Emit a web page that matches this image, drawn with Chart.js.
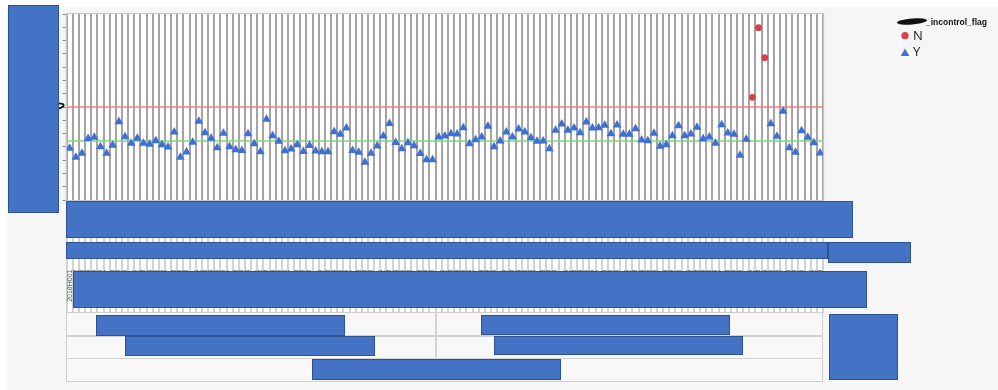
<!DOCTYPE html>
<html><head><meta charset="utf-8">
<script src="https://cdn.jsdelivr.net/npm/chart.js@4/dist/chart.umd.min.js"></script>
<style>
html,body{margin:0;padding:0;background:#fff;}
#wrap{position:relative;width:998px;height:390px;overflow:hidden;background:#fff;}
#panel{position:absolute;left:7px;top:7px;width:991px;height:383px;background:#f6f6f6;}
canvas{position:absolute;left:0;top:0;}
.r{position:absolute;background:#4472c4;border:1px solid #2f528f;box-sizing:border-box;}
.ln{position:absolute;background:#d2d2d2;}
</style></head>
<body>
<div id="wrap">
  <div id="panel"></div>
  <canvas id="c" width="998" height="390"></canvas>
  <div style="position:absolute;left:66px;top:312px;width:757px;height:70px;border:1.5px solid #cfcfcf;box-sizing:border-box;background:#f8f8f8;"></div>
  <div class="ln" style="left:66px;top:335px;width:757px;height:1.5px;"></div>
  <div class="ln" style="left:66px;top:357.5px;width:757px;height:1.5px;"></div>
  <div class="ln" style="left:435px;top:312px;width:1.5px;height:45px;"></div>

  <div class="r" style="left:8px;top:5px;width:51px;height:208px;"></div>
  <div class="r" style="left:66px;top:201px;width:787px;height:37px;"></div>
  <div class="r" style="left:66px;top:242px;width:762px;height:17px;"></div>
  <div class="r" style="left:828px;top:242px;width:83px;height:21px;"></div>
  <div class="r" style="left:73px;top:271px;width:794px;height:37px;"></div>
  <div class="r" style="left:96px;top:315px;width:249px;height:21px;"></div>
  <div class="r" style="left:125px;top:336px;width:250px;height:20px;"></div>
  <div class="r" style="left:312px;top:359px;width:249px;height:21px;"></div>
  <div class="r" style="left:481px;top:315px;width:249px;height:20px;"></div>
  <div class="r" style="left:494px;top:336px;width:249px;height:19px;"></div>
  <div class="r" style="left:829px;top:314px;width:69px;height:66px;"></div>
</div>
<script>
// ---- data ----
const values = [
  3.89,3.21,3.52,4.63,4.73,4.01,3.52,4.12,5.89,4.76,
  4.27,4.64,4.27,4.19,4.46,4.16,3.99,5.12,3.21,3.61,
  4.34,5.92,5.06,4.65,3.93,5.02,4.01,3.78,3.73,4.98,
  4.24,3.64,6.07,4.83,4.43,3.70,3.84,4.16,3.65,4.10,
  3.69,3.64,3.64,5.13,4.95,5.42,3.73,3.60,2.85,3.52,
  4.06,4.82,5.76,4.33,3.86,4.31,4.08,3.50,3.03,3.03,
  4.74,4.82,4.99,4.97,5.44,4.24,4.54,4.74,5.55,4.01,
  4.44,5.12,4.74,5.34,5.12,4.69,4.42,4.44,3.86,5.25,
  5.72,5.25,5.42,5.07,5.87,5.42,5.44,5.62,4.99,5.65,
  4.95,4.95,5.37,4.52,4.46,5.02,4.04,4.16,4.84,5.59,
  4.84,4.97,5.47,4.61,4.74,4.27,5.67,5.04,4.95,3.36,
  4.57,7.73,12.97,10.71,5.74,4.79,6.68,3.94,3.59,5.22,
  4.72,4.31,3.54
];
const flags = [
  "YYYYYYYYYY","YYYYYYYYYY","YYYYYYYYYY","YYYYYYYYYY","YYYYYYYYYY",
  "YYYYYYYYYY","YYYYYYYYYY","YYYYYYYYYY","YYYYYYYYYY","YYYYYYYYYY",
  "YYYYYYYYYY","YNNNYYYYYY","YYY"
].join("").split("");
const categories = values.map((v, i) => "2018H" + String(i + 1).padStart(3, "0"));
const yTicks = [0,1,2,3,4,5,6,7,8,9,10,11,12,13,14];
const ucl = 7.0;
const centerLine = 4.44;
const legendTitle = "_incontrol_flag";

// ---- build datasets ----
const ptsY = [], ptsN = [];
values.forEach((v, i) => { (flags[i] === "N" ? ptsN : ptsY).push({x: i, y: v}); });
const xMin = -0.5, xMax = categories.length - 0.5;

const decor = {
  id: 'decor',
  beforeDraw(chart) {
    const {ctx, chartArea: a, scales: {x}} = chart;
    ctx.save();
    ctx.fillStyle = '#ffffff';
    ctx.fillRect(a.left, a.top, a.right - a.left, x.bottom - a.top);
    ctx.restore();
  },
  afterDraw(chart) {
    const {ctx, chartArea: a, scales: {x, y}} = chart;
    ctx.save();
    ctx.strokeStyle = '#c8c8c8'; ctx.lineWidth = 1;
    ctx.strokeRect(a.left - 0.5, a.top - 0.5, a.right - a.left + 1, a.bottom - a.top + 1);
    // category labels (rotated)
    ctx.fillStyle = '#555'; ctx.font = '7px "Liberation Sans", Arial, sans-serif';
    ctx.textAlign = 'right'; ctx.textBaseline = 'middle';
    categories.forEach((c, i) => {
      const px = x.getPixelForValue(i);
      ctx.save(); ctx.translate(px, 269.5); ctx.rotate(-Math.PI / 2); ctx.fillText(c, 0, 0); ctx.restore();
    });
    // scribble on axis near UCL
    const uy = y.getPixelForValue(ucl);
    ctx.strokeStyle = '#111'; ctx.lineWidth = 1.8;
    ctx.beginPath(); ctx.moveTo(56, uy - 3.5); ctx.quadraticCurveTo(66, uy - 4, 63, uy - 0.5); ctx.quadraticCurveTo(60, uy + 2, 56, uy + 1.5); ctx.stroke();
    // legend
    ctx.fillStyle = '#111';
    ctx.beginPath(); ctx.ellipse(912, 21.5, 15, 3, -0.08, 0, Math.PI * 2); ctx.fill();
    ctx.font = 'bold 8.5px "Liberation Sans", Arial, sans-serif';
    ctx.textAlign = 'left'; ctx.textBaseline = 'middle';
    ctx.fillText(legendTitle, 926, 23);
    const dsN = chart.data.datasets[1], dsY = chart.data.datasets[0];
    ctx.fillStyle = dsN.backgroundColor;
    ctx.beginPath(); ctx.arc(905, 35.7, 3.6, 0, Math.PI * 2); ctx.fill();
    ctx.fillStyle = dsY.backgroundColor;
    const r = 5, cx = 905, cy = 53.5;
    ctx.beginPath();
    for (let k = 0; k < 3; k++) {
      const ang = k * 2 * Math.PI / 3;
      const px = cx + Math.sin(ang) * r, py = cy - Math.cos(ang) * r;
      k ? ctx.lineTo(px, py) : ctx.moveTo(px, py);
    }
    ctx.closePath(); ctx.fill();
    ctx.fillStyle = '#222'; ctx.font = '13px "Open Sans", "DejaVu Sans", sans-serif';
    ctx.fillText(dsN.label, 913, 36);
    ctx.fillText(dsY.label, 913, 52.5);
    ctx.restore();
  }
};

new Chart(document.getElementById('c'), {
  type: 'scatter',
  data: {
    datasets: [
      {label: 'Y', data: ptsY, pointStyle: 'triangle', pointRadius: 5, backgroundColor: '#3d6fd6', borderColor: '#3d6fd6', borderWidth: 0},
      {label: 'N', data: ptsN, pointStyle: 'circle', pointRadius: 3.4, backgroundColor: '#d93f4c', borderColor: '#d93f4c', borderWidth: 0},
      {label: 'UCL', type: 'line', data: [{x: xMin, y: ucl}, {x: xMax, y: ucl}], borderColor: '#ef7f84', borderWidth: 1.5, pointRadius: 0},
      {label: 'Center', type: 'line', data: [{x: xMin, y: centerLine}, {x: xMax, y: centerLine}], borderColor: '#7bd87b', borderWidth: 1.5, pointRadius: 0}
    ]
  },
  options: {
    responsive: false, animation: false, devicePixelRatio: 1,
    layout: {padding: {left: 62.6, top: 14, right: 174.9, bottom: 77}},
    plugins: {legend: {display: false}, tooltip: {enabled: false}},
    scales: {
      x: {
        type: 'linear', min: xMin, max: xMax,
        afterBuildTicks: s => { s.ticks = categories.map((c, i) => ({value: i - 0.5})).concat([{value: xMax}]); },
        ticks: {display: false},
        grid: {color: '#a4a4a4', lineWidth: 2, tickLength: 113, tickColor: '#bbbbbb', tickWidth: 1.3},
        border: {display: true, color: '#c8c8c8'}
      },
      y: {
        min: 0, max: 14,
        afterBuildTicks: s => { s.ticks = yTicks.map(v => ({value: v})); },
        ticks: {display: false},
        grid: {drawOnChartArea: false, tickLength: 4, tickColor: '#888', tickWidth: 1},
        border: {display: true, color: '#c8c8c8'}
      }
    }
  },
  plugins: [decor]
});
</script>
</body></html>
